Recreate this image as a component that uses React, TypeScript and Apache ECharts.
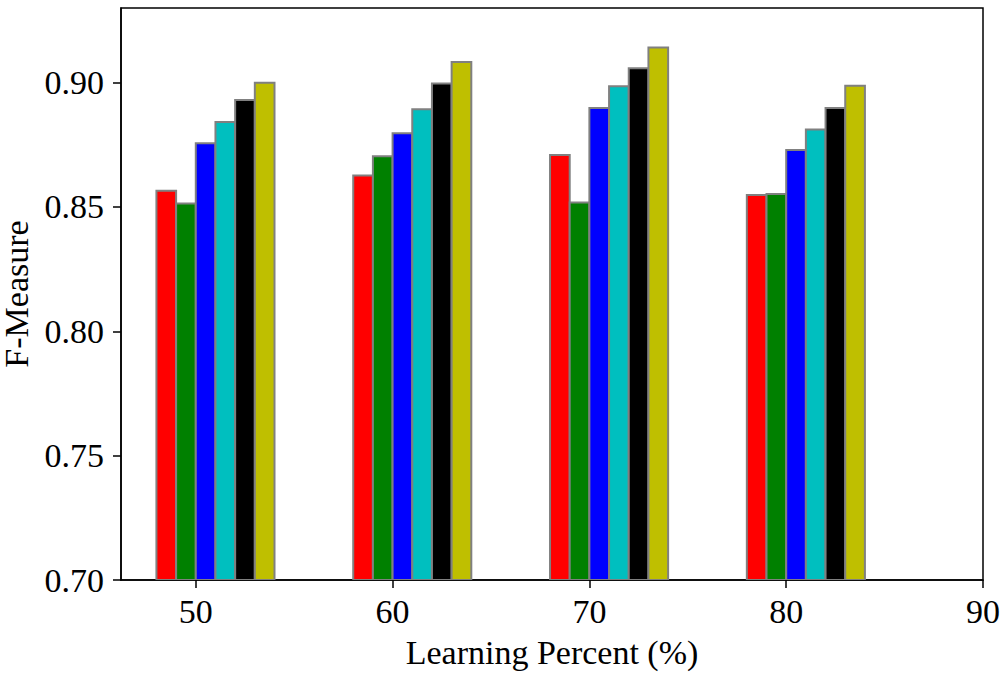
import React, { useEffect, useRef } from "react";
import * as echarts from "echarts";

const groups = [50, 60, 70, 80];
const xTicks = [50, 60, 70, 80, 90];
const yTicks = [0.7, 0.75, 0.8, 0.85, 0.9];

const seriesRed = [0.8565, 0.8626, 0.8709, 0.8548];
const seriesGreen = [0.8514, 0.8704, 0.8518, 0.8552];
const seriesBlue = [0.8756, 0.8796, 0.8898, 0.8729];
const seriesCyan = [0.8842, 0.8893, 0.8985, 0.8811];
const seriesBlack = [0.893, 0.8996, 0.9058, 0.8898];
const seriesYellow = [0.8999, 0.9083, 0.9141, 0.8987];

const allSeries = [
  { name: "Red", values: seriesRed, color: "#ff0000", offset: -2 },
  { name: "Green", values: seriesGreen, color: "#008000", offset: -1 },
  { name: "Blue", values: seriesBlue, color: "#0000ff", offset: 0 },
  { name: "Cyan", values: seriesCyan, color: "#00bfbf", offset: 1 },
  { name: "Black", values: seriesBlack, color: "#000000", offset: 2 },
  { name: "Yellow", values: seriesYellow, color: "#bfbf00", offset: 3 },
];

const Y_MIN = 0.7;
const Y_MAX = 0.93;
const FONT = "'Liberation Serif', 'Times New Roman', serif";
const FS = 34;

export default function App() {
  const ref = useRef<HTMLDivElement>(null);
  useEffect(() => {
    if (!ref.current) return;
    const chart = echarts.init(ref.current, undefined, { renderer: "svg" });
    const series = allSeries.map((s) => ({
      type: "custom",
      name: s.name,
      clip: true,
      data: groups.map((g, i) => [g + s.offset, s.values[i]]),
      encode: { x: 0, y: 1 },
      renderItem: (params: any, api: any) => {
        const x0 = api.value(0);
        const v = api.value(1);
        const p1 = api.coord([x0, v]);
        const p2 = api.coord([x0 + 1, Y_MIN]);
        return {
          type: "rect",
          shape: { x: p1[0], y: p1[1], width: p2[0] - p1[0], height: p2[1] - p1[1] },
          style: { fill: s.color, stroke: "#808080", lineWidth: 2 },
        };
      },
    }));
    chart.setOption({
      animation: false,
      backgroundColor: "#ffffff",
      grid: {
        left: 121,
        right: 23,
        top: 8,
        bottom: 101,
        outerBoundsMode: "none",
        containLabel: false,
        show: true,
        borderColor: "#000",
        borderWidth: 1.5,
        backgroundColor: "transparent",
      },
      xAxis: {
        type: "value",
        min: 46.2,
        max: 90,
        name: "Learning Percent (%)",
        nameLocation: "middle",
        nameGap: 55,
        nameTextStyle: { fontFamily: FONT, fontSize: FS, color: "#000" },
        axisLine: { show: true, lineStyle: { color: "#000", width: 1.5 } },
        axisTick: { show: true, inside: false, length: 8, customValues: xTicks, lineStyle: { color: "#000", width: 1.5 } },
        axisLabel: { customValues: xTicks, margin: 14, fontFamily: FONT, fontSize: FS, color: "#000" },
        splitLine: { show: false },
      },
      yAxis: {
        type: "value",
        min: Y_MIN,
        max: Y_MAX,
        name: "F-Measure",
        nameLocation: "middle",
        nameGap: 83,
        nameTextStyle: { fontFamily: FONT, fontSize: FS, lineHeight: 34, color: "#000" },
        axisLine: { show: true, lineStyle: { color: "#000", width: 1.5 } },
        axisTick: { show: true, inside: false, length: 8, customValues: yTicks, lineStyle: { color: "#000", width: 1.5 } },
        axisLabel: {
          customValues: yTicks,
          margin: 17,
          fontFamily: FONT,
          fontSize: FS,
          color: "#000",
          formatter: (v: number) => v.toFixed(2),
        },
        splitLine: { show: false },
      },
      series,
    });
    return () => chart.dispose();
  }, []);
  return (
    <div
      ref={ref}
      style={{ position: "fixed", left: 0, top: 0, width: 1006, height: 681, background: "#fff" }}
    />
  );
}
